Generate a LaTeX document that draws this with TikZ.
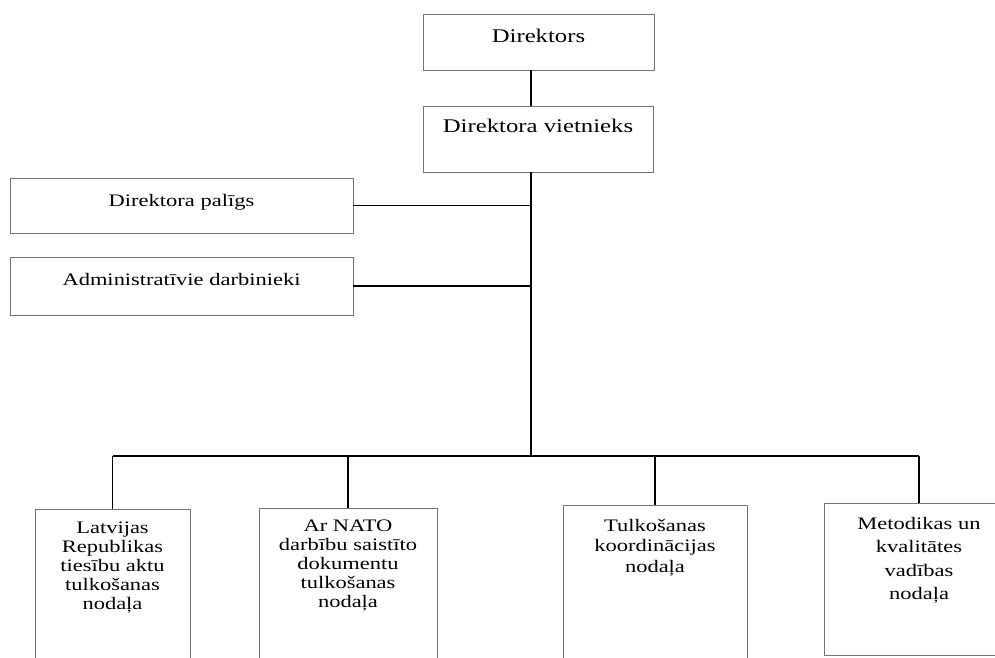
\documentclass[tikz,border=0pt]{standalone}
\usepackage{fontspec}
\setmainfont{Liberation Serif}[FakeStretch=1.28]
\usetikzlibrary{positioning}

\begin{document}
\begin{tikzpicture}[
    x=0.02cm, y=-0.02cm,
    unit/.style={rectangle,draw=black!55,line width=0.5pt,inner sep=0pt},
    lbl/.style={inner sep=0pt,align=center,font=\fontsize{10}{10.8}\selectfont},
    link/.style={draw=black,line width=0.7pt}
]
\useasboundingbox (0,0) rectangle (995,657);

\node[unit,minimum width=4.62cm,minimum height=1.12cm] (dir) at (538.5,42) {};
\node[unit,minimum width=4.60cm,minimum height=1.32cm] (vice) at (538,139) {};
\node[unit,minimum width=6.86cm,minimum height=1.10cm] (asst) at (181.5,205.5) {};
\node[unit,minimum width=6.86cm,minimum height=1.16cm] (admin) at (181.5,286) {};

\node[unit,minimum width=3.10cm,minimum height=3.42cm] (lr) at (112.5,594.5) {};
\node[unit,minimum width=3.56cm,minimum height=3.44cm] (nato) at (348,594) {};
\node[unit,minimum width=3.68cm,minimum height=3.50cm] (coord) at (655,592.5) {};
\node[unit,minimum width=3.80cm,minimum height=3.04cm] (qual) at (919,579) {};

\node[lbl,font=\fontsize{11}{12}\selectfont,below=0.31cm of dir.north] (dirT) {Direktors};
\node[lbl,font=\fontsize{11}{12}\selectfont,below=0.27cm of vice.north] (viceT) {Direktora vietnieks};
\node[lbl,below=0.32cm of asst.north] (asstT) {Direktora palīgs};
\node[lbl,below=0.32cm of admin.north] (adminT) {Administratīvie darbinieki};

\node[lbl,below=0.26cm of lr.north] (lrT) {Latvijas\\Republikas\\tiesību aktu\\tulkošanas\\nodaļa};
\node[lbl,below=0.24cm of nato.north] (natoT) {Ar NATO\\darbību saistīto\\dokumentu\\tulkošanas\\nodaļa};
\node[lbl,font=\fontsize{10}{11.8}\selectfont,below=0.28cm of coord.north] (coordT) {Tulkošanas\\koordinācijas\\nodaļa};
\node[lbl,font=\fontsize{10}{13.4}\selectfont,below=0.28cm of qual.north] (qualT) {Metodikas un\\kvalitātes\\vadības\\nodaļa};

\coordinate (junc) at (531,456);

\draw[link] (dir.south -| junc) -- (vice.north -| junc);
\draw[link] (vice.south -| junc) -- (junc);
\draw[link] (asst.east) -- (asst.east -| junc);
\draw[link] (admin.east) -- (admin.east -| junc);
\draw[link] (lr.north |- junc) -- (qual.north |- junc);
\foreach \d in {lr,nato,coord,qual}
  \draw[link] (\d.north |- junc) -- (\d.north);
\end{tikzpicture}
\end{document}
